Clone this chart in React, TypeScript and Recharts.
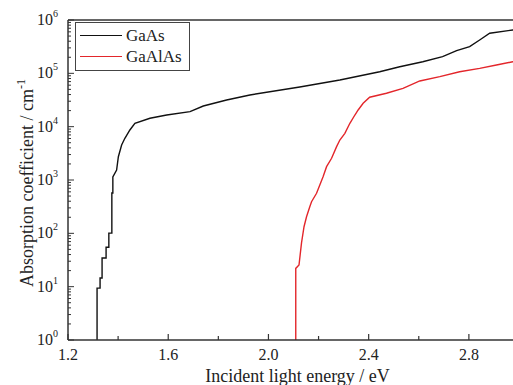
import { LineChart, Line, XAxis, YAxis, Legend, ReferenceLine, Label } from "recharts"

// GaAs curve (photon energy in eV, absorption coefficient in cm^-1)
const gaAsEnergy = [
  1.316, 1.316, 1.328, 1.328, 1.336, 1.336, 1.352, 1.352, 1.363, 1.363, 1.375, 1.375, 1.379, 1.379,
  1.394, 1.401, 1.414, 1.427, 1.447, 1.467, 1.527, 1.594, 1.687, 1.74, 1.833, 1.926, 2.125, 2.285,
  2.444, 2.524, 2.616, 2.695, 2.751, 2.803, 2.843, 2.883, 2.975, 3.0,
]
const gaAsAbs = [
  1, 9.4, 9.4, 14.5, 14.5, 34.5, 34.5, 55, 55, 101, 101, 571, 571, 1138,
  1540, 2735, 4530, 6050, 8660, 11560, 14360, 16550, 19100, 24400, 31600, 39300, 55500, 75000,
  107000, 133000, 165000, 205000, 266000, 316000, 422000, 564000, 650000, 660000,
]

// GaAlAs curve
const gaAlAsEnergy = [
  2.109, 2.109, 2.122, 2.132, 2.142, 2.152, 2.165, 2.172, 2.192, 2.205, 2.218, 2.232, 2.252, 2.272,
  2.285, 2.305, 2.325, 2.345, 2.358, 2.378, 2.404, 2.471, 2.537, 2.604, 2.684, 2.763, 2.843, 2.91,
  2.975, 3.0,
]
const gaAlAsAbs = [
  1, 22, 25.5, 66, 133, 205, 316, 392, 563, 806, 1153, 1778, 2553, 4217,
  5623, 7510, 11560, 16550, 20560, 27400, 35600, 42300, 52400, 71900, 86500, 107000, 124000, 143000,
  165000, 172000,
]

const xTicks = [1.2, 1.4, 1.6, 1.8, 2.0, 2.2, 2.4, 2.6, 2.8, 3.0]
const xLabelTicks = [1.2, 1.6, 2.0, 2.4, 2.8]
const yDecades = [1, 10, 100, 1000, 10000, 100000, 1000000]
const yMinorSteps = [2, 3, 4, 5, 6, 7, 8, 9]

const gaAs = gaAsEnergy.map((energy, i) => ({ energy, abs: gaAsAbs[i] }))
const gaAlAs = gaAlAsEnergy.map((energy, i) => ({ energy, abs: gaAlAsAbs[i] }))

const yTicks: number[] = []
yDecades.forEach((d, i) => {
  yTicks.push(d)
  if (i < yDecades.length - 1) yMinorSteps.forEach((m) => yTicks.push(d * m))
})

const FONT = '"Liberation Serif", "Times New Roman", serif'
const AXIS = "#333333"

function XTick({ x, y, payload }: any) {
  const v = payload.value
  const major = xLabelTicks.some((t) => Math.abs(t - v) < 1e-6)
  return (
    <g>
      <line x1={x} x2={x} y1={y} y2={y - (major ? 6 : 4)} stroke={AXIS} strokeWidth={1.2} />
      {major && (
        <text x={x} y={y + 20} textAnchor="middle" fontSize={16} fontFamily={FONT} fill="#222">
          {v.toFixed(1)}
        </text>
      )}
    </g>
  )
}

function YTick({ x, y, payload }: any) {
  const v = payload.value
  const exp = Math.log10(v)
  const major = Math.abs(exp - Math.round(exp)) < 1e-6
  return (
    <g>
      <line x1={x} x2={x + (major ? 6 : 3)} y1={y} y2={y} stroke={AXIS} strokeWidth={1} />
      {major && (
        <text x={x - 10} y={y + 5} textAnchor="end" fontSize={16} fontFamily={FONT} fill="#222">
          10
          <tspan dy={-8} fontSize={10}>
            {Math.round(exp)}
          </tspan>
        </text>
      )}
    </g>
  )
}

function LegendBox() {
  const rows = [
    { name: "GaAs", color: "#111111" },
    { name: "GaAlAs", color: "#e3262b" },
  ]
  return (
    <div
      style={{
        border: "1px solid #444",
        background: "#fff",
        padding: "2px 0 3px 4px",
        fontFamily: FONT,
        fontSize: 17,
        color: "#222",
      }}
    >
      {rows.map((r) => (
        <div key={r.name} style={{ display: "flex", alignItems: "center", height: 21 }}>
          <span style={{ display: "inline-block", width: 42, height: 0, borderTop: `1.3px solid ${r.color}`, marginRight: 4 }} />
          <span>{r.name}</span>
        </div>
      ))}
    </div>
  )
}

export default function App() {
  return (
    <div style={{ position: "absolute", left: 0, top: 0, width: 513, height: 385, overflow: "hidden", background: "#fff" }}>
      <LineChart width={530} height={385} margin={{ top: 20, right: 11, bottom: 0, left: 0 }}>
        <XAxis
          type="number"
          dataKey="energy"
          domain={[1.2, 3.0]}
          ticks={xTicks}
          interval={0}
          height={45}
          tickSize={0}
          tickMargin={0}
          tick={<XTick />}
          axisLine={{ stroke: AXIS, strokeWidth: 1.5 }}
          allowDuplicatedCategory={false}
        >
          <Label
            content={({ viewBox }: any) => (
              <text
                x={viewBox.x + viewBox.width / 2 + 4}
                y={viewBox.y + 42}
                textAnchor="middle"
                fontSize={18}
                fontFamily={FONT}
                fill="#222"
              >
                Incident light energy / eV
              </text>
            )}
          />
        </XAxis>
        <YAxis
          type="number"
          scale="log"
          domain={[1, 1000000]}
          ticks={yTicks}
          interval={0}
          width={68}
          tickSize={0}
          tickMargin={0}
          tick={<YTick />}
          axisLine={{ stroke: AXIS, strokeWidth: 1.5 }}
          allowDataOverflow
        >
          <Label
            content={({ viewBox }: any) => {
              const cx = 33
              const cy = viewBox.y + viewBox.height / 2 + 3
              return (
                <text
                  x={cx}
                  y={cy}
                  transform={`rotate(-90, ${cx}, ${cy})`}
                  textAnchor="middle"
                  fontSize={18}
                  fontFamily={FONT}
                  fill="#222"
                >
                  Absorption coefficient / cm
                  <tspan dy={-8} fontSize={12}>
                    -1
                  </tspan>
                </text>
              )
            }}
          />
        </YAxis>
        <ReferenceLine y={1000000} stroke={AXIS} strokeWidth={1.5} />
        <ReferenceLine x={3.0} stroke={AXIS} strokeWidth={1.5} />
        <Legend
          layout="horizontal"
          verticalAlign="middle"
          align="center"
          wrapperStyle={{ left: 75, top: 22, width: 115, height: "auto" }}
          content={() => <LegendBox />}
        />
        <Line
          data={gaAs}
          dataKey="abs"
          name="GaAs"
          type="linear"
          stroke="#111111"
          strokeWidth={1.4}
          dot={false}
          isAnimationActive={false}
        />
        <Line
          data={gaAlAs}
          dataKey="abs"
          name="GaAlAs"
          type="linear"
          stroke="#e3262b"
          strokeWidth={1.4}
          dot={false}
          isAnimationActive={false}
        />
      </LineChart>
    </div>
  )
}
